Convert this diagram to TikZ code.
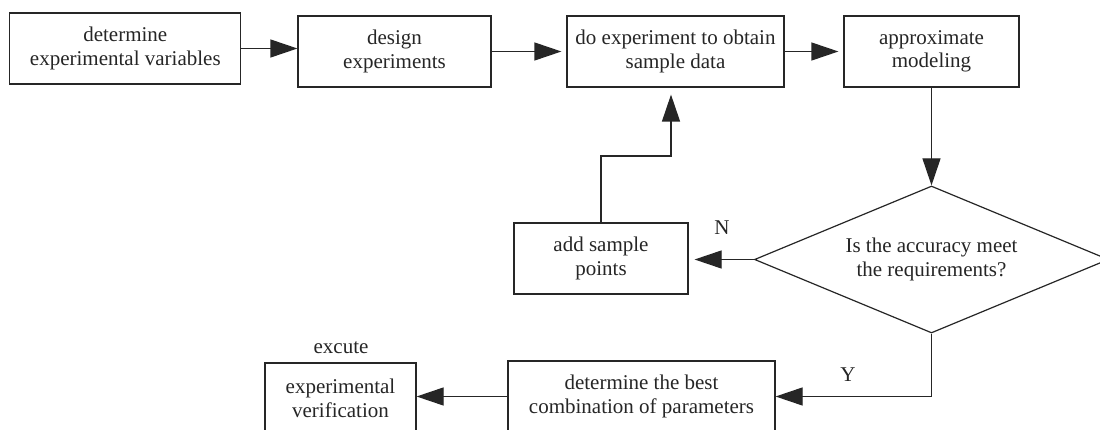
\documentclass[tikz,border=0pt]{standalone}
\usepackage{fontspec}
\setmainfont{Liberation Serif}
\usetikzlibrary{shapes.geometric,arrows.meta}
\definecolor{ink}{HTML}{262626}
\tikzset{
  txt/.style={font=\fontsize{21}{23.5}\selectfont, text=ink},
  stage/.style={txt, draw=ink, line width=1.2pt, rectangle, inner sep=0pt,
                align=center, minimum height=71pt},
  decision/.style={txt, draw=ink, line width=1.2pt, diamond, inner sep=0pt,
                   aspect=2.4, align=center, minimum width=354pt, minimum height=147pt},
  flow/.style={draw=ink, line width=1.2pt, -{Triangle[length=27pt,width=18pt]}},
  tag/.style={txt, inner sep=0pt}
}
\begin{document}
\begin{tikzpicture}[x=1pt,y=-1pt]
  \useasboundingbox (0,0) rectangle (1100,430);
  \fill[white] (0,0) rectangle (1100,430);
  \clip (0,0) rectangle (1100,430);

  % top row of process steps
  \node[stage, minimum width=231pt] (b1) at (125.3,48.5) {determine\\experimental variables};
  \node[stage, minimum width=193pt] (b2) at (394.5,51.5) {design\\experiments};
  \node[stage, minimum width=217pt] (b3) at (675.5,51.5) {do experiment to obtain\\sample data};
  \node[stage, minimum width=175pt] (b4) at (931.5,51.5) {approximate\\modeling};

  % accuracy check and the refinement loop
  \node[decision] (q) at (931.5,259.5) {Is the accuracy meet\\the requirements?};
  \node[stage, minimum width=174pt] (s) at (601,258.5) {add sample\\points};

  % final steps
  \node[stage, minimum width=267pt] (best) at (641.5,396.5) {determine the best\\combination of parameters};
  \node[stage, minimum width=151pt] (ev) at (340.5,398.5) {experimental\\verification};

  % labels
  \node[tag, anchor=base] (ex) at (341,353) {excute};
  \node[tag] (nlab) at (722,228) {N};
  \node[tag] (ylab) at (848,375) {Y};

  % connectors
  \draw[flow] (b1.east) -- (b1.east -| b2.west);
  \draw[flow, shorten >=5pt] (b2.east) -- (b2.east -| b3.west);
  \draw[flow, shorten >=5pt] (b3.east) -- (b4.west);
  \draw[flow] (b4.south) -- (q.north);
  \draw[flow, shorten >=6pt] (q.west) -- (q.west -| s.east);
  \coordinate (jn) at (671,156);
  \draw[flow, shorten >=7pt] (s.north) |- (jn) -- (jn |- b3.south);
  \draw[flow] (q.south) |- (best.east);
  \draw[flow] (best.west) -- (best.west -| ev.east);
\end{tikzpicture}
\end{document}
